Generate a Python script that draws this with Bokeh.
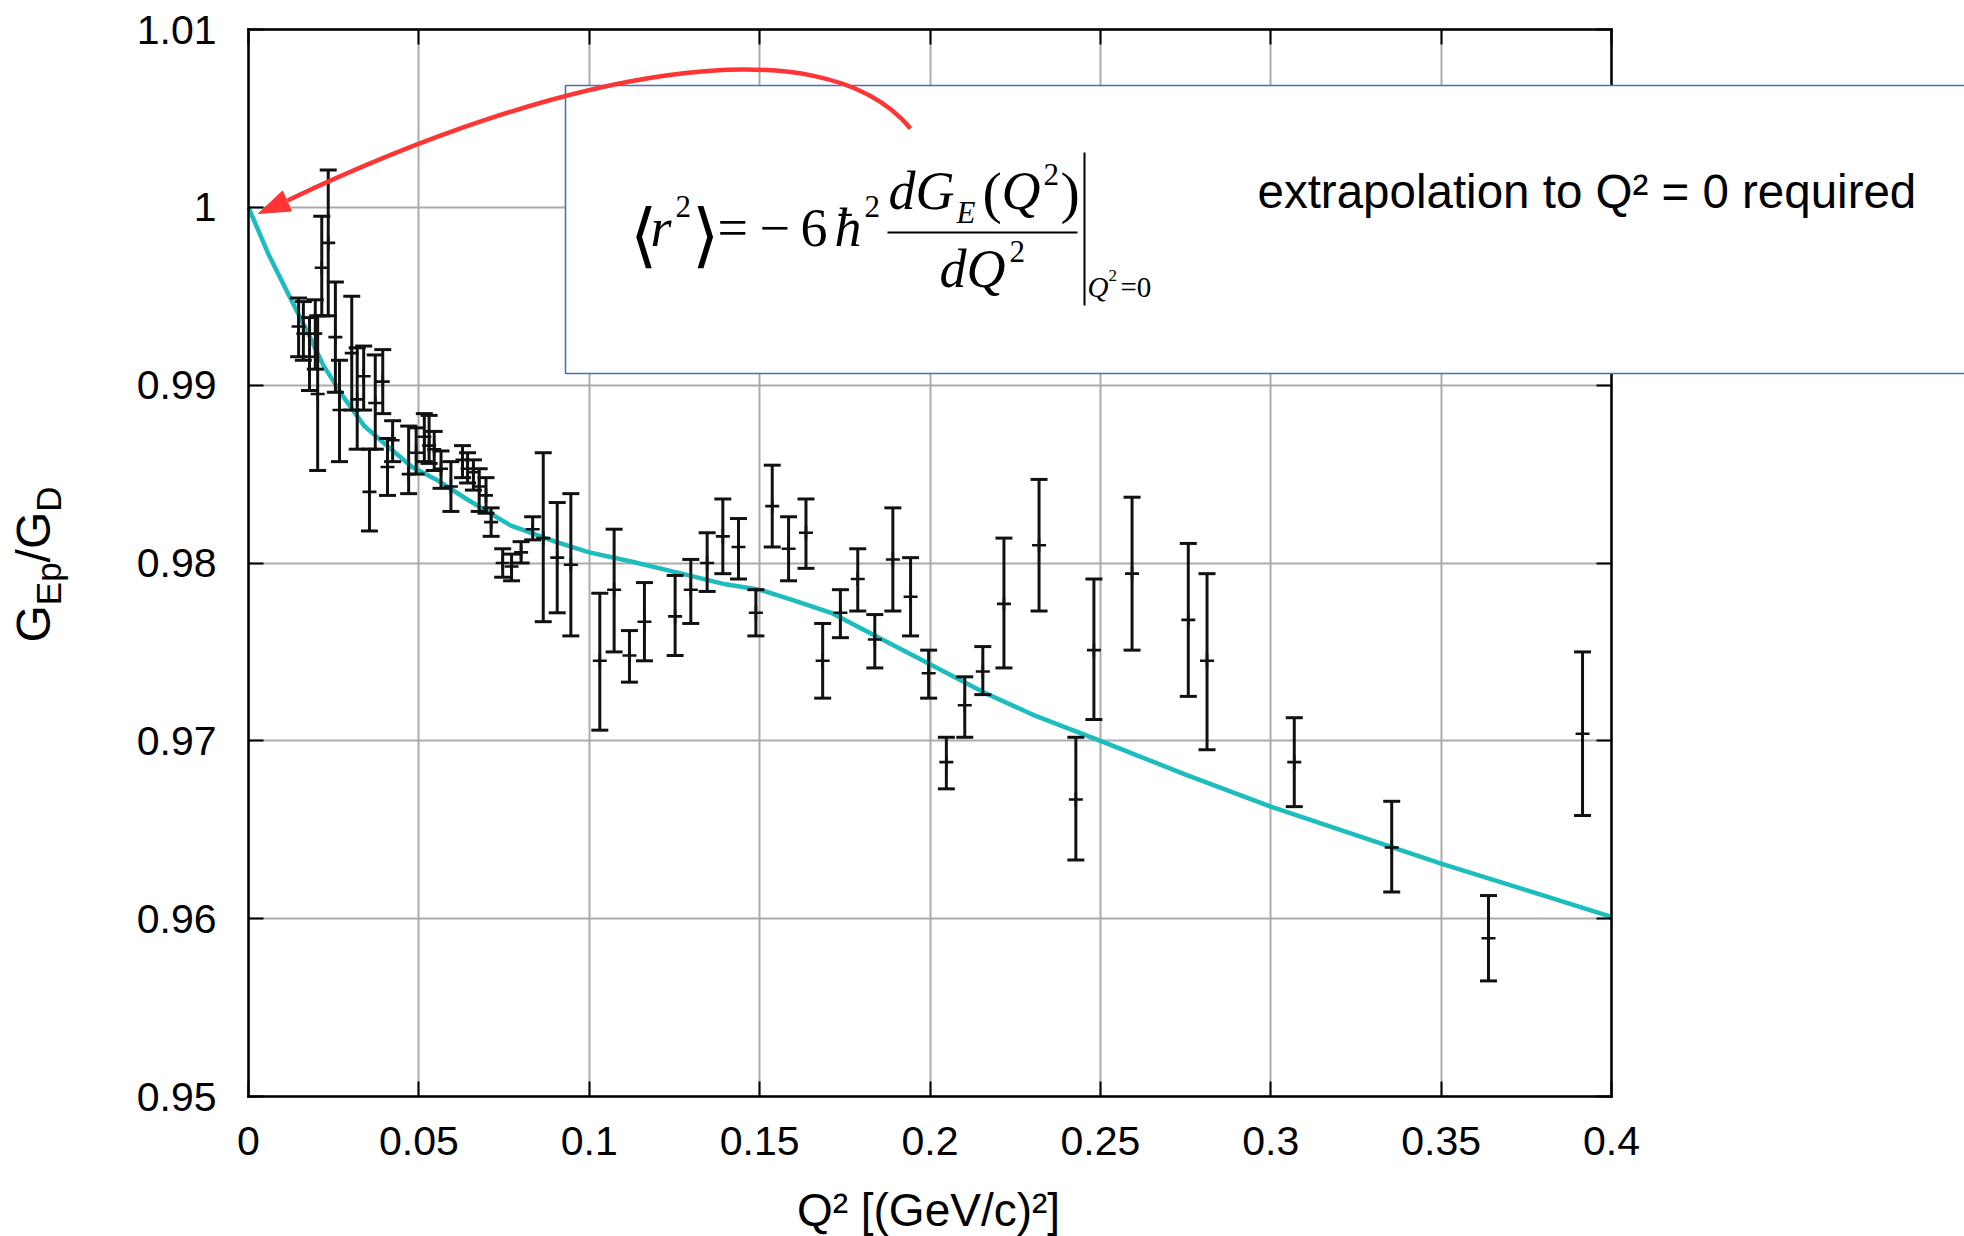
import numpy as np
from bokeh.plotting import figure
from bokeh.models import (FixedTicker, LinearAxis, Range1d, Label, BoxAnnotation, Grid,
                          CustomJSTickFormatter, ColumnDataSource)
from bokeh.embed import file_html
from bokeh.resources import INLINE

# ---------------- data ----------------
Q2 = [0.0147, 0.0161, 0.0179, 0.0196, 0.0203, 0.0215, 0.0234, 0.0255, 0.0267, 0.0303,
      0.0319, 0.0338, 0.0355, 0.0372, 0.0394, 0.0408, 0.0423, 0.0470, 0.0492, 0.0516,
      0.0530, 0.0545, 0.0565, 0.0594, 0.0628, 0.0643, 0.0660, 0.0677, 0.0697, 0.0712,
      0.0746, 0.0772, 0.0800, 0.0834, 0.0865, 0.0906, 0.0946, 0.1031, 0.1073, 0.1118,
      0.1162, 0.1252, 0.1298, 0.1346, 0.1392, 0.1438, 0.1489, 0.1537, 0.1585, 0.1636,
      0.1685, 0.1737, 0.1788, 0.1838, 0.1891, 0.1943, 0.1996, 0.2048, 0.2102, 0.2155,
      0.2217, 0.2320, 0.2428, 0.2481, 0.2593, 0.2758, 0.2813, 0.3069, 0.3355, 0.3639,
      0.3915]
RATIO = [0.9933, 0.9929, 0.9916, 0.9929, 0.9895, 0.9966, 0.9980, 0.9927, 0.9886, 0.9918,
         0.9892, 0.9905, 0.9840, 0.9890, 0.9902, 0.9854, 0.9869, 0.9850, 0.9862, 0.9871,
         0.9866, 0.9864, 0.9853, 0.9843, 0.9858, 0.9853, 0.9851, 0.9843, 0.9838, 0.9823,
         0.9800, 0.9798, 0.9806, 0.9819, 0.9814, 0.9803, 0.9799, 0.9745, 0.9785, 0.9748,
         0.9767, 0.9770, 0.9785, 0.9800, 0.9815, 0.9809, 0.9772, 0.9832, 0.9808, 0.9817,
         0.9745, 0.9772, 0.9791, 0.9757, 0.9802, 0.9781, 0.9738, 0.9688, 0.9720, 0.9739,
         0.9777, 0.9810, 0.9667, 0.9751, 0.9794, 0.9768, 0.9745, 0.9688, 0.9640, 0.9589,
         0.9704]
ERR_LO = [0.9916, 0.9914, 0.9897, 0.9909, 0.9852, 0.9939, 0.9939, 0.9896, 0.9857, 0.9886,
          0.9864, 0.9886, 0.9818, 0.9864, 0.9884, 0.9838, 0.9857, 0.9839, 0.9850, 0.9857,
          0.9856, 0.9852, 0.9842, 0.9829, 0.9848, 0.9845, 0.9841, 0.9829, 0.9828, 0.9815,
          0.9792, 0.9790, 0.9800, 0.9813, 0.9767, 0.9772, 0.9759, 0.9706, 0.9750, 0.9733,
          0.9745, 0.9748, 0.9766, 0.9784, 0.9794, 0.9791, 0.9759, 0.9809, 0.9790, 0.9797,
          0.9724, 0.9758, 0.9773, 0.9741, 0.9773, 0.9759, 0.9724, 0.9673, 0.9702, 0.9726,
          0.9741, 0.9773, 0.9633, 0.9712, 0.9751, 0.9725, 0.9695, 0.9663, 0.9615, 0.9565,
          0.9658]
ERR_HI = [0.9949, 0.9947, 0.9938, 0.9948, 0.9939, 0.9995, 1.0021, 0.9958, 0.9914, 0.9950,
          0.9921, 0.9922, 0.9864, 0.9917, 0.9920, 0.9870, 0.9880, 0.9877, 0.9876, 0.9884,
          0.9883, 0.9874, 0.9863, 0.9857, 0.9866, 0.9862, 0.9858, 0.9853, 0.9848, 0.9831,
          0.9808, 0.9805, 0.9812, 0.9826, 0.9862, 0.9834, 0.9839, 0.9783, 0.9819, 0.9762,
          0.9789, 0.9793, 0.9802, 0.9817, 0.9836, 0.9825, 0.9785, 0.9855, 0.9826, 0.9836,
          0.9766, 0.9785, 0.9808, 0.9771, 0.9831, 0.9803, 0.9751, 0.9702, 0.9736, 0.9753,
          0.9814, 0.9847, 0.9702, 0.9791, 0.9837, 0.9811, 0.9794, 0.9713, 0.9666, 0.9613,
          0.9750]

FIT_Q2 = [0, 0.006, 0.012, 0.017, 0.022, 0.028, 0.034, 0.040, 0.048, 0.055, 0.064, 0.070,
          0.077, 0.083, 0.090, 0.100, 0.112, 0.125, 0.140, 0.150, 0.160, 0.171, 0.186,
          0.200, 0.216, 0.231, 0.250, 0.275, 0.300, 0.325, 0.350, 0.375, 0.400]
FIT_RATIO = [1.0, 0.9973, 0.9950, 0.9931, 0.9911, 0.9893, 0.9877, 0.9867, 0.9854, 0.9847,
             0.9836, 0.9829, 0.9821, 0.9817, 0.9812, 0.9806, 0.9801, 0.9795, 0.9788,
             0.9785, 0.9779, 0.9772, 0.9757, 0.9743, 0.9727, 0.9714, 0.9700, 0.9681,
             0.9663, 0.9647, 0.9631, 0.9616, 0.9601]

X_TICKS = [0, 0.05, 0.1, 0.15, 0.2, 0.25, 0.3, 0.35, 0.4]
Y_TICKS = [0.95, 0.96, 0.97, 0.98, 0.99, 1.0, 1.01]

# ---------------- layout ----------------
W, H = 1964, 1236
BOX_L, BOX_R, BOX_T, BOX_B = 248, 1611, 29, 1096      # pixel box of the data area
X_MIN, X_MAX = 0.0, 0.4
Y_MIN, Y_MAX = 0.95, 1.01
SX = (X_MAX - X_MIN) / (BOX_R - BOX_L)
SY = (Y_MAX - Y_MIN) / (BOX_B - BOX_T)
XR = (X_MIN - BOX_L * SX, X_MAX + (W - BOX_R) * SX)
YR = (Y_MIN - (H - BOX_B) * SY, Y_MAX + BOX_T * SY)


def X(px):
    return X_MIN + (px - BOX_L) * SX


def Y(py):
    return Y_MAX - (py - BOX_T) * SY


p = figure(width=W, height=H, x_range=Range1d(*XR), y_range=Range1d(*YR),
           output_backend="svg", toolbar_location=None,
           x_axis_location=None, y_axis_location=None, min_border=0)
p.title.visible = False
p.background_fill_color = "white"
p.border_fill_color = "white"
p.outline_line_color = None
for g in p.grid:
    g.visible = False

fmt = CustomJSTickFormatter(code="return tick.toFixed(2).replace(/\\.?0+$/, '');")
blank = CustomJSTickFormatter(code="return '';")


def make_axis(loc, ticks, fixed, bounds, labels, standoff=0):
    ax = LinearAxis(ticker=FixedTicker(ticks=ticks), fixed_location=fixed, bounds=bounds,
                    formatter=fmt if labels else blank)
    ax.axis_line_color = "black"
    ax.axis_line_width = 2.5
    ax.axis_line_cap = "square"
    ax.major_tick_in = 15
    ax.major_tick_out = 0
    ax.major_tick_line_width = 2
    ax.major_tick_line_color = "black"
    ax.minor_tick_line_color = None
    ax.major_label_text_font = "Liberation Sans"
    ax.major_label_text_font_size = "41px"
    ax.major_label_text_color = "black"
    ax.major_label_standoff = standoff
    p.add_layout(ax, loc)
    return ax


make_axis("left", Y_TICKS, X_MIN, (Y_MIN, Y_MAX), True, 32)
make_axis("below", X_TICKS, Y_MIN, (X_MIN, X_MAX), True, 30)
make_axis("right", Y_TICKS, X_MAX, (Y_MIN, Y_MAX), False)
make_axis("above", X_TICKS, Y_MAX, (X_MIN, X_MAX), False)

has_cross = "cross_bounds" in Grid.properties()
for dim, ticks, b, cb in ((0, X_TICKS, (X_MIN, X_MAX), (Y_MIN, Y_MAX)),
                          (1, Y_TICKS, (Y_MIN, Y_MAX), (X_MIN, X_MAX))):
    if has_cross:
        g = Grid(dimension=dim, ticker=FixedTicker(ticks=ticks), bounds=b, cross_bounds=cb,
                 grid_line_color="#ababab", grid_line_width=2)
        p.add_layout(g)
    else:
        if dim == 0:
            p.segment(x0=ticks, y0=[Y_MIN] * len(ticks), x1=ticks, y1=[Y_MAX] * len(ticks),
                      line_color="#ababab", line_width=2, level="underlay")
        else:
            p.segment(x0=[X_MIN] * len(ticks), y0=ticks, x1=[X_MAX] * len(ticks), y1=ticks,
                      line_color="#ababab", line_width=2, level="underlay")

# fit curve
p.line(FIT_Q2, FIT_RATIO, line_color="#1cbcbf", line_width=4.5)

# data with error bars
src = ColumnDataSource(dict(q=Q2, v=RATIO, lo=ERR_LO, hi=ERR_HI))
INK = "#111111"
p.segment(x0="q", y0="lo", x1="q", y1="hi", source=src, line_color=INK, line_width=3)
p.scatter(x="q", y="lo", source=src, marker="dash", size=17, line_color=INK, line_width=3)
p.scatter(x="q", y="hi", source=src, marker="dash", size=17, line_color=INK, line_width=3)
p.scatter(x="q", y="v", source=src, marker="cross", size=14, line_color=INK, line_width=2.6)

# formula box
box = BoxAnnotation(left=X(565), right=X(W + 20), top=Y(85), bottom=Y(373),
                    fill_color="white", fill_alpha=1.0, line_color="#4470bf",
                    line_alpha=1.0, line_width=1.6)
p.add_layout(box)

# red arrow
RED = "#ff3535"
p.bezier(x0=[X(287)], y0=[Y(200)], x1=[X(910)], y1=[Y(128)],
         cx0=[X(560)], cy0=[Y(70)], cx1=[X(820)], cy1=[Y(20)],
         line_color=RED, line_width=4.5, level="overlay")
p.patch([X(258), X(291), X(282)], [Y(213), Y(210.5), Y(190.5)],
        fill_color=RED, line_color=RED, line_width=1, level="overlay")

BASE_SHIFT = 0.36   # measured offset of Bokeh's alphabetic baseline (in em)


def lab(px, py, text, size, font="Liberation Serif", style="normal", align="left",
        angle=0.0):
    if angle == 0.0:
        py = py - BASE_SHIFT * size
    else:
        px = px - BASE_SHIFT * size
    p.add_layout(Label(x=X(px), y=Y(py), text=text, text_font=font,
                       text_font_size=f"{size}px", text_font_style=style,
                       text_align=align, text_baseline="alphabetic", angle=angle,
                       text_color="black", level="overlay"))


# formula
lab(629, 260, "\u27e8", 70)
lab(650, 247, "r", 54, style="italic")
lab(675, 217, "2", 31)
lab(691, 260, "\u27e9", 70)
lab(717, 247, "=", 54)
lab(759, 247, "\u2212", 54)
lab(800, 247, "6", 54)
lab(834, 247, "\u0127", 54, style="italic")
lab(864, 217, "2", 31)
lab(888, 210, "dG", 54, style="italic")
lab(956, 223, "E", 31, style="italic")
lab(982, 213, "(", 58)
lab(1001, 210, "Q", 54, style="italic")
lab(1043, 185, "2", 31)
lab(1060, 213, ")", 58)
lab(939, 288, "dQ", 54, style="italic")
lab(1009, 262, "2", 31)
lab(1087, 297, "Q", 29, style="italic")
lab(1108, 281, "2", 17)
lab(1120, 297, "=0", 29)
p.segment(x0=[X(887)], y0=[Y(232)], x1=[X(1077)], y1=[Y(232)],
          line_color="black", line_width=2, level="overlay")
p.segment(x0=[X(1084)], y0=[Y(152)], x1=[X(1084)], y1=[Y(305)],
          line_color="black", line_width=2, level="overlay")

lab(1257, 208, "extrapolation to Q\u00b2 = 0 required", 47.5, font="Liberation Sans")

# axis titles
lab(928, 1226, "Q\u00b2 [(GeV/c)\u00b2]", 46, font="Liberation Sans", align="center")
A = np.pi / 2
lab(50, 642, "G", 48, font="Liberation Sans", angle=A)
lab(61, 604.7, "Ep", 35, font="Liberation Sans", angle=A)
lab(50, 561.9, "/G", 48, font="Liberation Sans", angle=A)
lab(61, 511.2, "D", 35, font="Liberation Sans", angle=A)

open("out.html", "w").write(file_html(p, INLINE))
